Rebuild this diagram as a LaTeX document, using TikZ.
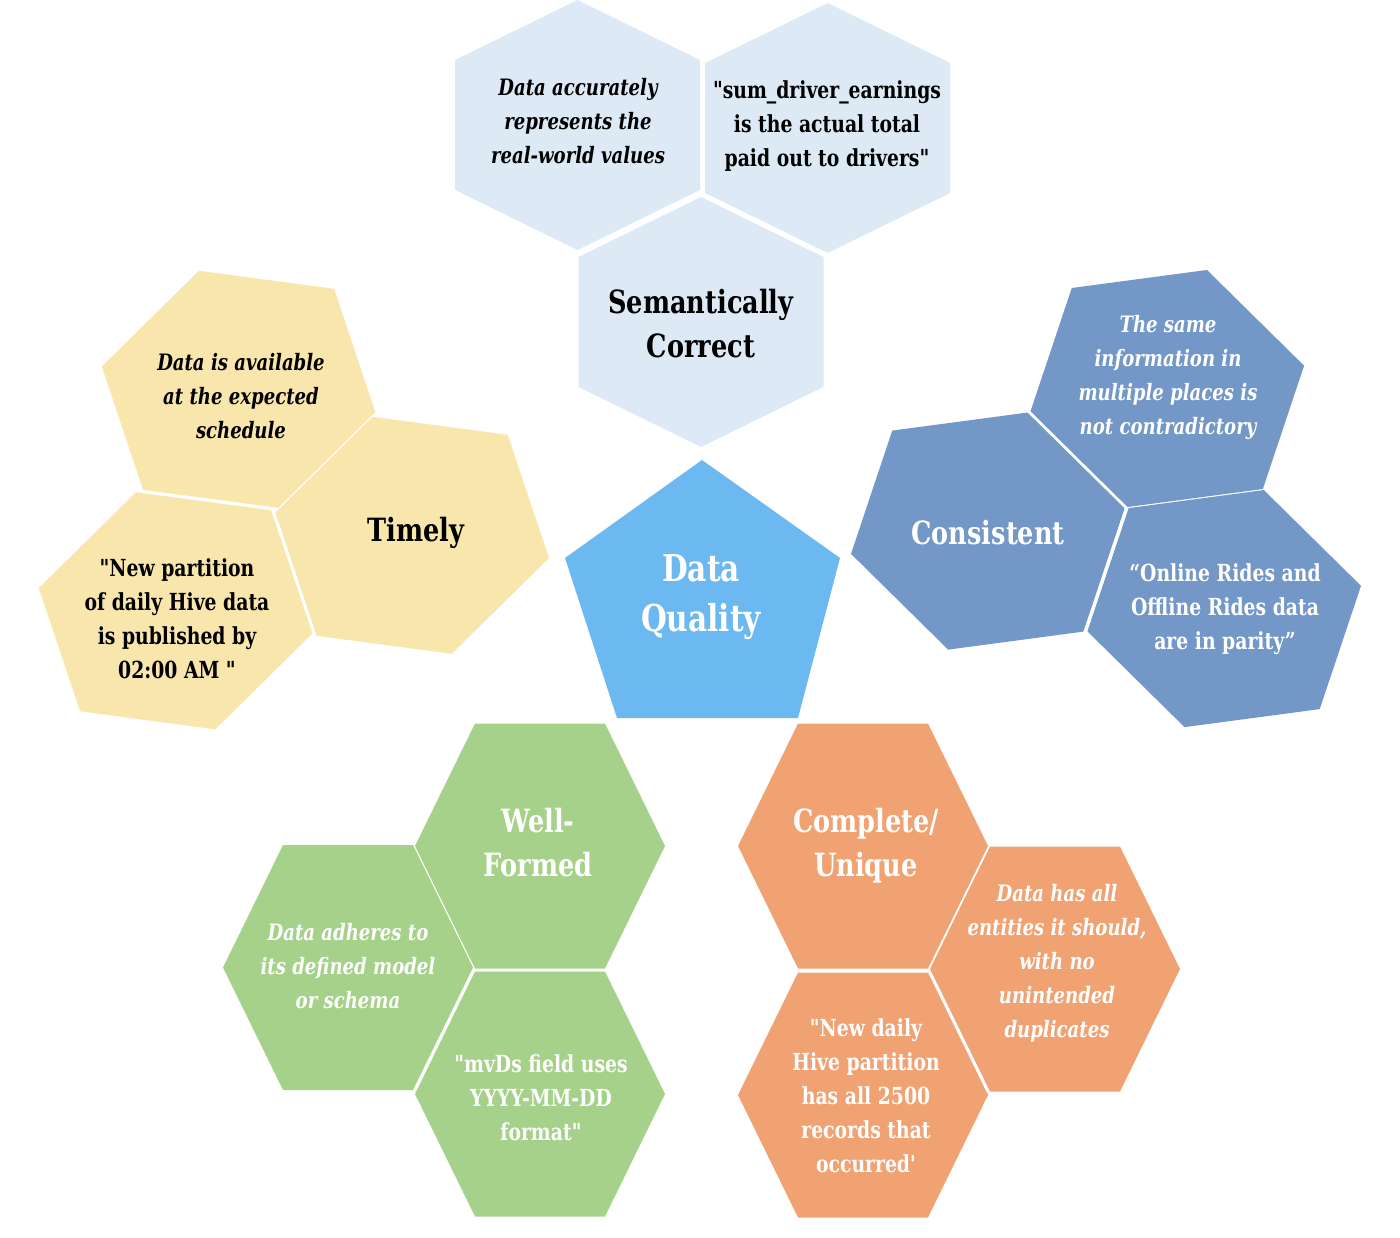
\documentclass[tikz,border=0pt]{standalone}
\usepackage{fontspec}
\newfontfamily\hexfont{DejaVu Serif}[FakeStretch=0.8]

\definecolor{semblue}{HTML}{DDEAF6}
\definecolor{timyel}{HTML}{F9E6AD}
\definecolor{conblue}{HTML}{7397C7}
\definecolor{wfgreen}{HTML}{A6D18B}
\definecolor{cuorange}{HTML}{F0A273}
\definecolor{dqblue}{HTML}{6CB8F0}

\tikzset{
  hexhead/.style={align=center, font=\hexfont\bfseries\fontsize{32}{44}\selectfont},
  hexnote/.style={align=center, font=\hexfont\bfseries\itshape\fontsize{22.6}{34}\selectfont},
  hexquote/.style={align=center, font=\hexfont\bfseries\fontsize{23.5}{34}\selectfont}
}

\begin{document}
\begin{tikzpicture}[x=1pt,y=-1pt]
\useasboundingbox (0,0) rectangle (1400,1238);

% Шестиугольники (центр / поворот / цвет)
\foreach \x/\y/\a/\c in {577.5/125/0/semblue, 827.7/128/0/semblue, 701/322/0/semblue,
    238.6/389.3/18.5/timyel, 412.2/535.3/18.5/timyel, 175.6/610.8/18.5/timyel,
    1167.3/388.5/-18.5/conblue, 987.8/531.1/-18.5/conblue, 1224.2/608.6/-18.5/conblue,
    540/846/90/wfgreen, 348/967.5/90/wfgreen, 540/1094/90/wfgreen,
    863/846/90/cuorange, 1055/969/90/cuorange, 863/1095/90/cuorange}
  \fill[\c, shift={(\x,\y)}, rotate=\a] (0,-125) -- (122.5,-65) -- (122.5,65) -- (0,125)
    -- (-122.5,65) -- (-122.5,-65) -- cycle;

% Центр (пятиугольник)
\fill[dqblue] (702,460) -- (840,558) -- (798,718) -- (617,718) -- (565,558) -- cycle;
\node[hexhead, text=white, font=\hexfont\bfseries\fontsize{37}{50}\selectfont] (dq) at (701,597) {Data\\Quality};

% Semantically Correct
\node[hexhead] (sem) at (701,324) {Semantically\\Correct};
\node[hexnote] (semA) at (578,121) {Data accurately\\represents the\\real-world values};
\node[hexquote] (semB) at (827,126) {"sum\_driver\_earnings\\is the actual total\\paid out to drivers"};

% Timely
\node[hexhead] (tim) at (416,533) {Timely};
\node[hexnote] (timA) at (241,396) {Data is available\\at the expected\\schedule};
\node[hexquote] (timB) at (177,619) {"New partition\\of daily Hive data\\is published by\\02:00 AM "};

% Consistent
\node[hexhead, text=white] (con) at (988,533) {Consistent};
\node[hexnote, text=white] (conA) at (1168,377) {The same\\information in\\multiple places is\\not contradictory};
\node[hexquote, text=white] (conB) at (1225,609) {“Online Rides and\\Offline Rides data\\are in parity”};

% Well-Formed
\node[hexhead, text=white] (wf) at (538,843) {Well-\\Formed};
\node[hexnote, text=white] (wfA) at (348,966) {Data adheres to\\its defined model\\or schema};
\node[hexquote, text=white] (wfB) at (541,1098) {"mvDs field uses\\YYYY-MM-DD\\format"};

% Complete/Unique
\node[hexhead, text=white] (cu) at (866,846) {Complete/\\Unique};
\node[hexnote, text=white] (cuA) at (1057,963) {Data has all\\entities it should,\\with no\\unintended\\duplicates};
\node[hexquote, text=white] (cuB) at (866,1096) {"New daily\\Hive partition\\has all 2500\\records that\\occurred'};

\end{tikzpicture}
\end{document}
